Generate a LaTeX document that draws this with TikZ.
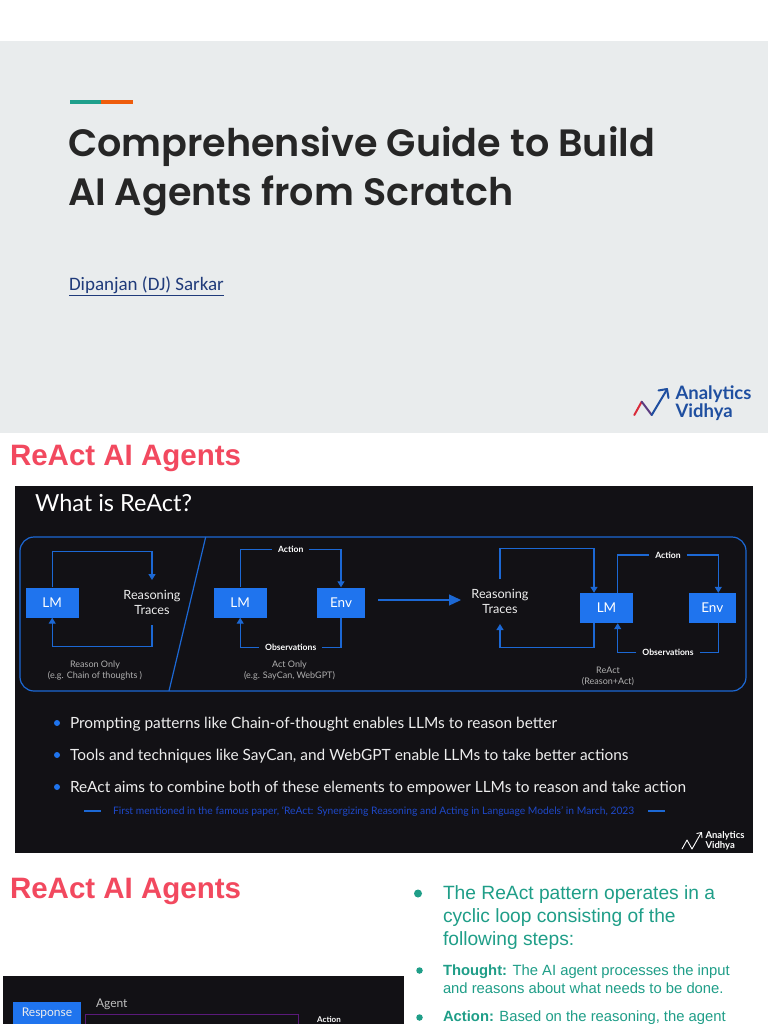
\documentclass[tikz,border=0pt]{standalone}
\usepackage{fontspec}
\setmainfont{Lato}
\newfontfamily\headfont{Liberation Sans}
\newfontfamily\carl{Carlito}
\newfontfamily\ttl{Poppins}[UprightFont=* SemiBold]
\usetikzlibrary{arrows.meta}
\definecolor{slidegray}{HTML}{E9ECED}
\definecolor{accteal}{HTML}{1FA08C}
\definecolor{accorange}{HTML}{EE5C0C}
\definecolor{linkblue}{HTML}{1F3A7A}
\definecolor{heading}{HTML}{F2495F}
\definecolor{panel}{HTML}{121115}
\definecolor{boxblue}{HTML}{1F74EE}
\definecolor{lineblue}{HTML}{1C68D4}
\definecolor{paper}{HTML}{1E48C8}
\definecolor{tealtext}{HTML}{1F9E88}
\definecolor{capgray}{HTML}{B0B0B0}
\definecolor{bodywhite}{HTML}{EDEDED}
\definecolor{agentpurple}{HTML}{5A1A7A}
\definecolor{logoblue}{HTML}{1F4FA0}
\definecolor{logored}{HTML}{D92B3A}
\definecolor{logopurple}{HTML}{5B3C80}
\newcommand{\fsz}[1]{\fontsize{#1}{#1}\selectfont}
\tikzset{
  x=1pt,y=-1pt,
  txt/.style={inner sep=0pt,outer sep=0pt,align=left},
  lab/.style={txt,align=center},
  bluebox/.style={fill=boxblue,text=white,inner sep=0pt,font=\fsz{13.5}},
  lmbox/.style={bluebox,minimum width=53,minimum height=30},
  envbox/.style={bluebox,minimum width=47.5,minimum height=30},
  trace/.style={lab,text=bodywhite,font=\fsz{12.7},minimum height=45},
  edgelabel/.style={lab,text=white,font=\bfseries\fsz{8.6},inner xsep=6pt,inner ysep=1pt},
  caption/.style={lab,text=capgray,font=\fsz{9}},
  link/.style={draw=lineblue,line width=1.2pt},
  head/.style={link,-{Triangle[length=6pt,width=7pt,fill=lineblue]}},
  bodytext/.style={txt,anchor=west,text=bodywhite,font=\fsz{15.43}},
  dot/.style={circle,fill=#1,inner sep=0pt,minimum size=6pt},
  stepA/.style={txt,anchor=west,text=tealtext,font=\headfont\fsz{19.2}},
  stepB/.style={txt,anchor=west,text=tealtext,font=\headfont\fsz{14.8}},
  bigtitle/.style={txt,anchor=west,text=black!85,font=\ttl\fsz{38.1}},
  slidehead/.style={txt,anchor=west,text=heading,font=\headfont\bfseries\fsz{29.5}},
}
\begin{document}
\begin{tikzpicture}
\clip (0,0) rectangle (768,1024);
\fill[white] (0,0) rectangle (768,1024);
% title slide
\fill[slidegray] (0,41) rectangle (768,433);
\fill[accteal] (70,100) rectangle (101,104.5);
\fill[accorange] (101,100) rectangle (132.5,104.5);
\node[bigtitle] (t1) at (68,146.5) {Comprehensive Guide to Build};
\node[bigtitle] (t2) at (68,195.5) {AI Agents from Scratch};
\node[txt,anchor=west,text=linkblue,font=\carl\fsz{19}] (author) at (69,286) {\underline{Dipanjan (DJ) Sarkar}};
% logo
\draw[logored,line width=2pt,line cap=round] (634.3,415) -- (641.7,401.7);
\draw[logopurple,line width=2pt,line cap=round] (641.7,401.7) -- (651.7,415);
\draw[logoblue,line width=2pt,line cap=round,line join=round] (651.7,415) -- (667,389.5);
\draw[logoblue,line width=2pt,line cap=round,line join=round] (658.5,390.5) -- (667,389) -- (668.5,398);
\node[txt,anchor=west,text=logoblue,font=\bfseries\fontsize{18.5}{15.5}\selectfont] (lg1) at (675.5,403.5) {Analytics\\Vidhya};
% first heading and panel
\node[slidehead] (h1) at (10,458.5) {ReAct AI Agents};
\fill[panel] (15,486) rectangle (753,853);
\node[txt,anchor=west,text=white,font=\fsz{23.5}] (what) at (35,502.5) {What is ReAct?};
\draw[link,rounded corners=14pt] (20,537) rectangle (746,691);
\draw[link] (205.7,537) -- (169,691);
% reason only
\node[lmbox] (lm1) at (52.2,602.5) {LM};
\node[trace] (rt1) at (152,602.5) {Reasoning\\[1.5pt]Traces};
\coordinate (c1) at (100,551.7);
\coordinate (c2) at (100,646.7);
\draw[head] (lm1.north) |- (c1) -| (rt1.north);
\draw[head] (rt1.south) |- (c2) -| (lm1.south);
\node[caption] (cap1) at (95,670.5) {Reason Only\\[2pt](e.g. Chain of thoughts )};
% act only
\node[lmbox] (lm2) at (240.2,602.5) {LM};
\node[envbox] (env1) at (341,602.5) {Env};
\node[edgelabel] (act1) at (290.7,549.5) {Action};
\node[edgelabel] (obs1) at (290.7,647.5) {Observations};
\draw[link] (lm2.north) |- (act1.west);
\draw[head] (act1.east) -| (env1.north);
\draw[link] (env1.south) |- (obs1.east);
\draw[head] (obs1.west) -| (lm2.south);
\node[caption] (cap2) at (289.5,670.8) {Act Only\\[2pt](e.g. SayCan, WebGPT)};
% big arrow
\coordinate (ga) at (378,600);
\coordinate (gb) at (461,600);
\draw[link,-{Triangle[length=12pt,width=11pt,fill=lineblue]}] (ga) -- (gb);
% react
\node[trace] (rt2) at (500,601.5) {Reasoning\\[1.5pt]Traces};
\node[lmbox,minimum width=53.6] (lm3) at (606.5,608) {LM};
\node[envbox] (env2) at (712.3,608) {Env};
\node[edgelabel] (act2) at (668,555) {Action};
\node[edgelabel] (obs2) at (668,652.8) {Observations};
\coordinate (c3) at (550,548.4);
\coordinate (c4) at (550,647.7);
\draw[head] (rt2.north) |- (c3) -| ([xshift=-12.5pt]lm3.north);
\draw[head] ([xshift=-12.5pt]lm3.south) |- (c4) -| (rt2.south);
\draw[link] ([xshift=11.2pt]lm3.north) |- (act2.west);
\draw[head] (act2.east) -| ([xshift=6pt]env2.north);
\draw[link] ([xshift=6pt]env2.south) |- (obs2.east);
\draw[head] (obs2.west) -| ([xshift=11.2pt]lm3.south);
\node[caption] (cap3) at (608,676) {ReAct\\[2pt](Reason+Act)};
% bullets
\node[dot=boxblue] (b1) at (57,723) {};
\node[dot=boxblue] (b2) at (57,755) {};
\node[dot=boxblue] (b3) at (57,787) {};
\node[bodytext] (s1) at (70,724) {Prompting patterns like Chain-of-thought enables LLMs to reason better};
\node[bodytext] (s2) at (70,756) {Tools and techniques like SayCan, and WebGPT enable LLMs to take better actions};
\node[bodytext] (s3) at (70,788) {ReAct aims to combine both of these elements to empower LLMs to reason and take action};
\node[txt,anchor=west,text=paper,font=\fsz{10.3}] (paperline) at (113,811.5) {First mentioned in the famous paper, ‘ReAct: Synergizing Reasoning and Acting in Language Models’ in March, 2023};
\coordinate (d1) at (84,811); \coordinate (d2) at (101,811);
\coordinate (d3) at (648,811); \coordinate (d4) at (665,811);
\draw[link] (d1) -- (d2);
\draw[link] (d3) -- (d4);
% panel logo
\draw[white,line width=.9pt,line join=round] (682,849) -- (687,840) -- (692,849) -- (701,833);
\draw[white,line width=.9pt,line join=round] (696.5,833.5) -- (701.5,832.5) -- (702,838);
\node[txt,anchor=west,text=white,font=\bfseries\fontsize{9.5}{8.5}\selectfont] (pl1) at (705.5,840.5) {Analytics\\Vidhya};
% second heading and panel
\node[slidehead] (h2) at (10,891.5) {ReAct AI Agents};
\fill[panel] (3,976) rectangle (404,1030);
\node[fill=boxblue,inner sep=0pt,minimum width=68,minimum height=30,anchor=north west] (resp) at (13,1002) {};
\node[txt,text=bodywhite,font=\fsz{12}] (resplab) at (47,1013.5) {Response};
\node[txt,anchor=west,text=capgray!80!white,font=\fsz{12}] (agent) at (96,1004) {Agent};
\draw[agentpurple,line width=1pt] (85,1040) -- (85,1014) -- (298,1014) -- (298,1040);
\node[lab,text=white,font=\bfseries\fsz{8}] (act3) at (329,1020) {Action};
% right column
\node[dot=tealtext,minimum size=8pt] (r1) at (418,893.5) {};
\node[stepA] (a1) at (443,895) {The ReAct pattern operates in a};
\node[stepA] (a2) at (443,918) {cyclic loop consisting of the};
\node[stepA] (a3) at (443,941) {following steps:};
\node[dot=tealtext,minimum size=6.5pt] (r2) at (419.5,970.5) {};
\node[stepB] (b1a) at (443,971.5) {\textbf{Thought:} The AI agent processes the input};
\node[stepB] (b1b) at (443,988.5) {and reasons about what needs to be done.};
\node[dot=tealtext,minimum size=6.5pt] (r3) at (419.5,1017.5) {};
\node[stepB] (b2a) at (443,1018) {\textbf{Action:} Based on the reasoning, the agent};
\end{tikzpicture}
\end{document}
